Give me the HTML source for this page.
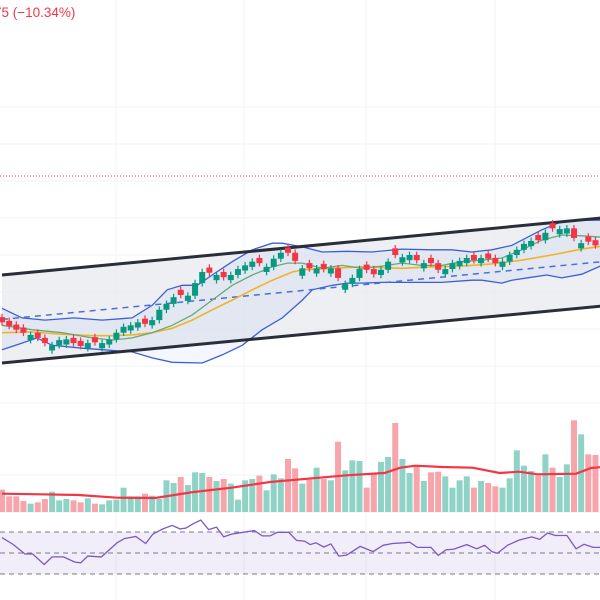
<!DOCTYPE html>
<html><head><meta charset="utf-8"><style>
html,body{margin:0;padding:0;background:#fff;width:600px;height:600px;overflow:hidden}
svg{display:block;font-family:"Liberation Sans",sans-serif}
</style></head><body>
<svg id="c" width="600" height="600" viewBox="0 0 600 600">
<text x="-6" y="17" font-size="13.5" fill="#f23645">75 (−10.34%)</text>
</svg>
<script>
const closes=[95.9,95.4,94.9,94.5,94.2,93.8,93.1,92.8,93.5,93.6,93.1,92.7,93.1,93.2,93.1,93.6,94.5,95.3,95.5,95.9,95.7,96.2,97.6,98.4,99.3,99.6,99.5,101.2,102.7,102.6,102.3,102.0,102.3,103.1,103.6,104.1,103.9,103.4,104.5,105.3,105.3,104.2,
103.2,103.2,103.2,103.1,103.2,101.9,101.1,101.9,103.1,103.0,102.4,103.0,104.1,105.0,104.7,105.0,104.3,103.9,103.9,103.0,103.1,103.9,104.2,104.6,104.3,104.6,104.5,103.9,104.1,105.0,105.7,106.5,106.9,107.0,108.0,108.6,108.5,108.6,107.3,106.6,106.8,106.3];
const dirs="rrrrgrrgggrrgrggggggrggggrgggrgrggggrgggrrgrgrgrgggrrggrggrgrrggggrgrrgggggrgrggrgrr";
const volumes=[67,47,47,33,25,29,39,61,35,39,35,29,41,25,23,35,37,73,47,47,55,49,39,95,87,105,81,119,117,105,93,99,85,37,95,99,109,65,113,101,159,131,85,97,133,99,95,211,125,155,153,73,113,150,165,267,159,117,137,93,119,121,107,73,95,107,73,93,87,77,73,101,185,139,123,109,173,133,105,143,275,233,173,171];
const volMaIdx=[0,5.4,10.7,16.1,21.4,26.8,32.1,37.5,42.8,48.2,53.5,55.7,57.8,61.6,65.8,69.6,72.3,74.9,80.3,82.4,83.9];
const volMaVal=[55,53,51,43,42,60,73,90,100,110,117,133,139,135,133,117,121,113,115,132,135];
const bbUpIdx=[0,2.8,6,10.1,14,18.2,21,23.1,25.2,27.3,29.4,32.2,35,37.8,39.2,42,44.8,48.3,51.7,55.9,60.1,62.9,65.7,68.5,71.3,75.5,78.3,81.1,83.9];
const bbUpVal=[97.8,96.5,96.2,96.5,96.2,96.5,98.2,100.3,100.9,100.9,102.3,104.1,105.7,106.6,106.6,106.1,105.4,105.5,105.4,105.8,105.7,105.7,105.4,105.7,106.3,108.4,109.5,109.7,109.7];
const bbLoIdx=[0,2.8,4.9,7,11.2,14,18.2,21,23.8,28,30.8,33.6,36.4,39.2,42,43.4,46.2,48.3,50.3,53.1,55.9,61.5,65.7,67.1,69.9,71.3,74.1,76.2,78.3,81.1,83.9];
const bbLoVal=[92.2,93.1,93.8,92.8,92.4,92.2,91.9,91.1,90.5,90.4,91.5,92.8,94.9,96.5,98.9,100.3,100.9,101.2,101.2,101.3,101.3,101.3,101.6,101.6,101.2,101.6,102,102.3,101.9,102.4,103.6];
const maFastIdx=[0,4.2,8.4,12.6,15.4,18.2,21,23.8,26.6,29.4,32.2,35,37.8,39.9,42,44.8,47.6,50.3,53.1,55.9,58.7,61.5,64.3,67.1,69.9,72.7,75.5,78.3,81.1,83.9];
const maFastVal=[95.5,94.9,94.5,93.8,93.5,93.8,94.5,95.5,96.9,98.9,100.9,102.3,103.4,103.9,103.9,103.2,103.6,103.2,103.5,103.9,103.6,103.6,104.1,104.3,104.6,105.7,107,107.7,107.6,107.4];
const maSlowIdx=[0,4.2,8.4,12.6,15.4,18.2,21,23.8,26.6,29.4,32.2,35,37.8,40.6,42,46.2,50.3,55.9,60.1,64.3,68.5,72.7,76.9,81.1,83.9];
const maSlowVal=[94.5,94.6,94.3,94.1,94.1,94.2,94.5,95.1,96.2,97.6,98.9,100.3,101.6,102.7,103,103.2,103.4,103.2,103.4,103.5,103.8,104.3,105,105.8,106.2];
const channelUpper=[102.3,110.0];
const channelLower=[90.4,98.1];
const channelMid=[96.3,104.1];
const channelIdx=[0,83.9];
const rsiIdx=[0,1.6,3.2,4.3,5.9,7.0,8.6,10.2,11.0,12.0,13.9,16.1,17.1,18.7,20.1,21.1,22.5,23.8,24.9,25.7,26.8,27.8,28.9,30.0,31.0,32.1,33.7,35.3,36.4,37.5,38.5,40.1,41.2,42.3,43.1,43.9,45.0,46.0,47.1,48.2,50.1,51.9,53.3,54.6,56.2,57.0,58.1,60.0,61.0,62.1,63.2,65.0,66.4,67.5,68.5,69.3,70.7,72.3,74.1,75.2,76.3,77.4,79.0,80.3,81.4,82.7,83.9];
const rsiVal=[64.7,58,49,49,39,46.3,46.3,41.3,40.7,47,46.3,59.7,63.7,65.7,59,68,73,76.3,73,73.7,78,81.3,72.3,74.7,65.3,68,69.7,71.3,66.3,66.3,69.7,69.7,62,61.3,58,59.7,55.7,58.7,47,48,56.3,51.3,57.3,59,59.7,60.3,55.3,55.3,47.7,53,53.7,58,54,57.3,51.3,49.7,57.3,62.3,65.3,63,69,66.7,66.7,54,58.3,55.3,55.3];
const priceGrid=[125,120,115,110,105,100,95,90,85];

const NS="http://www.w3.org/2000/svg";
const svg=document.getElementById('c');
const X=i=>2+i*7.15;
const PY=p=>366-(p-90)*7.4;
const VY=v=>512-v/3;
const RY=r=>553-(r-50)*1.05;
function el(t,a,parent){const e=document.createElementNS(NS,t);for(const k in a)e.setAttribute(k,a[k]);(parent||svg).appendChild(e);return e;}
function pathFrom(idx,vals,fy){return idx.map((i,k)=>(k?'L':'M')+X(i).toFixed(1)+','+fy(vals[k]).toFixed(1)).join('');}

const grid=el('g',{});


priceGrid.forEach(p=>el('line',{x1:0,x2:600,y1:PY(p),y2:PY(p),stroke:'#f0f3fa','stroke-width':1},grid));
[475,512].forEach(y=>el('line',{x1:0,x2:600,y1:y,y2:y,stroke:'#f0f3fa'},grid));
[116,244,366,495].forEach(x=>el('line',{x1:x,x2:x,y1:0,y2:600,stroke:'#f0f3fa'},grid));
const ref=el('line',{x1:0,x2:600,y1:176,y2:176,stroke:'#f23645','stroke-width':1,'stroke-dasharray':'1 2'});



const ch=el('polygon',{points:`${X(channelIdx[0])},${PY(channelUpper[0])} ${X(channelIdx[1])},${PY(channelUpper[1])} ${X(channelIdx[1])},${PY(channelLower[1])} ${X(channelIdx[0])},${PY(channelLower[0])}`,fill:'#e9ebef','fill-opacity':0.8});


let bbd=pathFrom(bbUpIdx,bbUpVal,PY);
for(let k=bbLoIdx.length-1;k>=0;k--)bbd+='L'+X(bbLoIdx[k]).toFixed(1)+','+PY(bbLoVal[k]).toFixed(1);
const bbf=el('path',{d:bbd+'Z',fill:'#2962ff','fill-opacity':0.05});


const bu=el('path',{d:pathFrom(bbUpIdx,bbUpVal,PY),fill:'none',stroke:'#3d5fd6','stroke-width':1.3});


const bl=el('path',{d:pathFrom(bbLoIdx,bbLoVal,PY),fill:'none',stroke:'#3d5fd6','stroke-width':1.3});


const cm=el('path',{d:pathFrom(channelIdx,channelMid,PY),fill:'none',stroke:'#4a6fd8','stroke-width':1.5,'stroke-dasharray':'6 5'});


const cu=el('path',{d:pathFrom(channelIdx,channelUpper,PY),fill:'none',stroke:'#2a2e39','stroke-width':3});


const cl=el('path',{d:pathFrom(channelIdx,channelLower,PY),fill:'none',stroke:'#2a2e39','stroke-width':3});


const ms=el('path',{d:pathFrom(maSlowIdx,maSlowVal,PY),fill:'none',stroke:'#f0b429','stroke-width':1.6});


const mf=el('path',{d:pathFrom(maFastIdx,maFastVal,PY),fill:'none',stroke:'#6aa87a','stroke-width':1.3});



closes.forEach((c,i)=>{
  const up=(dirs[i]||'g')==='g';
  const prev=i?closes[i-1]:c;
  const body=Math.max(Math.abs(c-prev),0.7);
  const o=up?c-body:c+body;
  const hi=Math.max(o,c)+0.45, lo=Math.min(o,c)-0.45;
  const col=up?'#089981':'#f23645';
  const g=el('g',{});
  
  
  el('line',{x1:X(i),x2:X(i),y1:PY(hi),y2:PY(lo),stroke:col,'stroke-width':1.2},g);
  const top=PY(Math.max(o,c));
  el('rect',{x:X(i)-3,y:top,width:6,height:Math.max(PY(Math.min(o,c))-top,1.5),fill:col},g);
});

volumes.forEach((v,i)=>{
  const up=(dirs[i]||'g')==='g';
  const r=el('rect',{x:X(i)-3,y:VY(v),width:6,height:512-VY(v),fill:up?'#8fd3c6':'#f7a5ab'});
  
  
});
const vm=el('path',{d:pathFrom(volMaIdx,volMaVal,VY),fill:'none',stroke:'#f23645','stroke-width':2.2});



const band=el('rect',{x:0,y:RY(70),width:600,height:RY(30)-RY(70),fill:'#7e57c2','fill-opacity':0.1});


[70,50,30].forEach(l=>{
  const d=el('line',{x1:0,x2:600,y1:RY(l),y2:RY(l),stroke:'#787b86','stroke-width':1,'stroke-dasharray':'5 4'});
  
  
});
const rl=el('path',{d:pathFrom(rsiIdx,rsiVal,RY),fill:'none',stroke:'#7e57c2','stroke-width':1.3});


</script>
</body></html>
